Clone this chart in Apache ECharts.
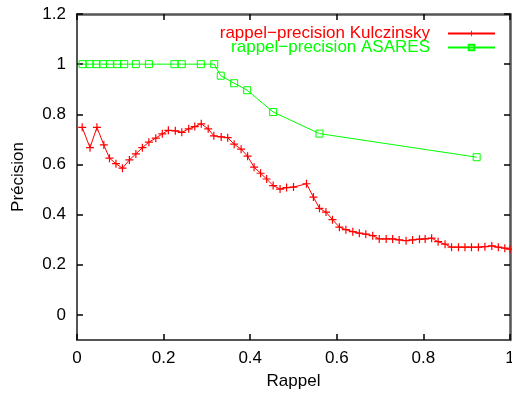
<!DOCTYPE html>
<html><head><meta charset="utf-8">
<script src="https://cdn.jsdelivr.net/npm/echarts@6/dist/echarts.min.js"></script>
<style>html,body{margin:0;padding:0;background:#fff}#c{width:512px;height:396px}</style>
</head><body><div id="c"></div>
<script>
var kulRappel = [0.012,0.030,0.046,0.062,0.075,0.090,0.105,0.121,0.136,0.151,0.166,0.182,0.197,0.211,0.227,0.242,0.258,0.272,0.287,0.303,0.316,0.333,0.348,0.363,0.379,0.394,0.409,0.424,0.438,0.453,0.469,0.484,0.500,0.530,0.546,0.560,0.575,0.590,0.606,0.621,0.637,0.652,0.667,0.683,0.698,0.714,0.729,0.744,0.760,0.775,0.791,0.804,0.819,0.834,0.850,0.865,0.881,0.896,0.911,0.927,0.942,0.958,0.973,0.988,1.0];
var kulPrecision = [0.748,0.667,0.748,0.678,0.625,0.603,0.585,0.618,0.642,0.667,0.689,0.705,0.722,0.736,0.734,0.728,0.742,0.751,0.762,0.742,0.714,0.710,0.707,0.681,0.661,0.633,0.589,0.565,0.542,0.516,0.502,0.508,0.510,0.523,0.470,0.425,0.410,0.380,0.350,0.340,0.332,0.326,0.322,0.316,0.303,0.303,0.303,0.299,0.296,0.299,0.302,0.303,0.306,0.292,0.282,0.270,0.270,0.270,0.270,0.270,0.272,0.275,0.270,0.266,0.262];
var asaRappel = [0.013,0.029,0.045,0.060,0.076,0.093,0.109,0.136,0.166,0.225,0.242,0.286,0.317,0.332,0.363,0.393,0.453,0.560,0.923];
var asaPrecision = [1,1,1,1,1,1,1,1,1,1,1,1,1,0.954,0.924,0.896,0.809,0.723,0.629];
var xTicks = [0,0.2,0.4,0.6,0.8,1];
var yTicks = [0,0.2,0.4,0.6,0.8,1,1.2];
var seriesNames = ['rappel\u2212precision Kulczinsky','rappel\u2212precision ASARES'];

function pairs(a,b){return a.map(function(v,i){return [v,b[i]];});}
var FONT = 'Liberation Sans';
var FS = 17;
function makeFrame(w){return {show:true, onZero:false, lineStyle:{color:'#555', width:w}};}
function makeTick(cv){var t={show:true,inside:true,length:6,lineStyle:{color:'#000',width:1.5}}; if(cv){t.customValues=cv.slice();} return t;}
var plus = 'path://M4.25,0h1.5v4.25h4.25v1.5h-4.25v4.25h-1.5v-4.25h-4.25v-1.5h4.25z';
var fmt = function(v){return String(+v.toFixed(1));};
var chart = echarts.init(document.getElementById('c'), null, {renderer:'canvas'});
chart.setOption({
  animation:false,
  backgroundColor:'#fff',
  grid:{left:77,right:2,top:14,bottom:56,outerBoundsMode:'none',containLabel:false},
  legend:{
    orient:'vertical', right:11, top:20, align:'right', itemGap:-3,
    itemWidth:47, itemHeight:7,
    textStyle:{fontFamily:FONT,fontSize:FS,padding:[0,13,0,0]},
    data:[{name:seriesNames[0],textStyle:{color:'#ff0000'}},{name:seriesNames[1],textStyle:{color:'#00ff00'}}]
  },
  xAxis:[{
    type:'value', min:0, max:1, interval:0.2, position:'bottom',
    name:'Rappel', nameLocation:'middle', nameGap:33,
    nameTextStyle:{fontFamily:FONT,fontSize:FS,color:'#000'},
    axisLine:makeFrame(2), splitLine:{show:false}, axisTick:makeTick(),
    axisLabel:{fontFamily:FONT,fontSize:FS,color:'#000',margin:10,formatter:fmt}
  },{
    type:'value', min:0, max:1, interval:0.2, position:'top', show:true,
    axisLine:makeFrame(2.5), splitLine:{show:false}, axisTick:makeTick(),
    axisLabel:{show:true,color:'rgba(0,0,0,0)',formatter:fmt}
  }],
  yAxis:[{
    type:'value', min:-0.1, max:1.2, position:'left',
    name:'Pr\u00e9cision', nameLocation:'middle', nameGap:50, nameRotate:90,
    nameTextStyle:{fontFamily:FONT,fontSize:FS,color:'#000'},
    axisLine:makeFrame(2), splitLine:{show:false},
    axisTick:makeTick(yTicks),
    axisLabel:{fontFamily:FONT,fontSize:FS,color:'#000',margin:11,customValues:yTicks.slice(),formatter:fmt}
  },{
    type:'value', min:-0.1, max:1.2, position:'right', show:true,
    axisLine:makeFrame(2.5), splitLine:{show:false},
    axisTick:makeTick(yTicks),
    axisLabel:{show:false,customValues:yTicks.slice()}
  }],
  series:[{
    name:seriesNames[0], type:'line', xAxisIndex:0, yAxisIndex:0,
    data:pairs(kulRappel,kulPrecision),
    symbol:plus, symbolSize:8, showAllSymbol:true,
    lineStyle:{color:'#ff0000',width:1},
    itemStyle:{color:'#ff0000'}
  },{
    name:seriesNames[1], type:'line', xAxisIndex:0, yAxisIndex:0,
    data:pairs(asaRappel,asaPrecision),
    symbol:'rect', symbolSize:7, showAllSymbol:true,
    lineStyle:{color:'#00ff00',width:1},
    itemStyle:{color:'rgba(0,0,0,0)',borderColor:'#00ff00',borderWidth:1}
  },{
    name:'_mirror', type:'line', xAxisIndex:1, yAxisIndex:1, data:[], silent:true
  }]
});
</script></body></html>
